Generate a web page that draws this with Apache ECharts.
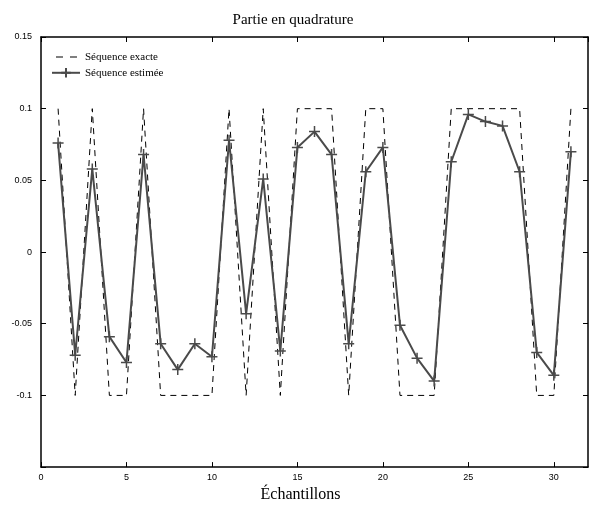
<!DOCTYPE html>
<html><head><meta charset="utf-8">
<script src="https://cdn.jsdelivr.net/npm/echarts@6/dist/echarts.min.js"></script>
<style>html,body{margin:0;padding:0;background:#fff}#c{width:590px;height:508px}</style>
</head><body><div id="c"></div>
<script>
const samples = [1,2,3,4,5,6,7,8,9,10,11,12,13,14,15,16,17,18,19,20,21,22,23,24,25,26,27,28,29,30,31];
const exact = [0.1,-0.1,0.1,-0.1,-0.1,0.1,-0.1,-0.1,-0.1,-0.1,0.1,-0.1,0.1,-0.1,0.1,0.1,0.1,-0.1,0.1,0.1,-0.1,-0.1,-0.1,0.1,0.1,0.1,0.1,0.1,-0.1,-0.1,0.1];
const estimated = [0.076,-0.072,0.058,-0.059,-0.077,0.068,-0.064,-0.082,-0.064,-0.073,0.078,-0.043,0.051,-0.069,0.073,0.084,0.068,-0.064,0.056,0.073,-0.051,-0.074,-0.090,0.063,0.096,0.091,0.088,0.056,-0.070,-0.086,0.070];
const yTickLabels = {'0.15':'0.15','0.1':'0.1','0.05':'0.05','0':'0','-0.05':'-0.05','-0.1':'-0.1'};

const chart = echarts.init(document.getElementById('c'));
const tickStyle = {show:true, inside:true, length:5, lineStyle:{color:'#000', width:1}};
const axisLine = {show:true, onZero:false, lineStyle:{color:'#000', width:1.5}};
const labelFont = {fontFamily:'Liberation Sans', fontSize:9, color:'#000'};
const plus = 'path://M0,5L10,5M5,0L5,10';
const dashIcon = 'path://M0,0L0.01,0M0,12L0.01,12M28,0L28.01,0M28,12L28.01,12M4,5.5L11,5.5L11,6.6L4,6.6ZM18,5.5L25,5.5L25,6.6L18,6.6Z';
chart.setOption({
  animation:false,
  title:{text:'Partie en quadrature', left:288, textAlign:'center', top:8,
    textStyle:{fontFamily:'Liberation Serif', fontWeight:'normal', fontSize:15, color:'#000'}},
  grid:{left:41, right:2, top:37, bottom:35, containLabel:false},
  legend:{left:46, top:46, orient:'vertical', itemGap:4, itemWidth:28, itemHeight:12,
    textStyle:{fontFamily:'Liberation Serif', fontSize:11, color:'#000'},
    data:[{name:'Séquence exacte', icon:dashIcon, itemStyle:{color:'#000', borderWidth:0}},
          'Séquence estimée']},
  xAxis:[{type:'value', min:0, max:32, interval:5, position:'bottom',
    name:'Échantillons', nameLocation:'middle', nameGap:17,
    nameTextStyle:{fontFamily:'Liberation Serif', fontSize:16, color:'#000', padding:[0,0,0,-28]},
    axisLine, axisTick:tickStyle, splitLine:{show:false},
    axisLabel:Object.assign({margin:6, showMaxLabel:false}, labelFont)},
   {type:'value', min:0, max:32, interval:5, position:'top',
    axisLine, axisTick:tickStyle, splitLine:{show:false}, axisLabel:{show:false}}],
  yAxis:[{type:'value', min:-0.15, max:0.15, interval:0.05, position:'left',
    axisLine, axisTick:tickStyle, splitLine:{show:false},
    axisLabel:Object.assign({margin:9, verticalAlign:'middle', padding:[0,0,4,0], formatter:v=>{const k=String(Math.round(v*100)/100);return yTickLabels[k]!==undefined?yTickLabels[k]:'';}}, labelFont)},
   {type:'value', min:-0.15, max:0.15, interval:0.05, position:'right',
    axisLine, axisTick:tickStyle, splitLine:{show:false}, axisLabel:{show:false}}],
  series:[
    {name:'Séquence exacte', type:'line', data:samples.map((x,i)=>[x,exact[i]]),
      symbol:'none', lineStyle:{color:'#000', width:1, type:[6,5]}, itemStyle:{color:'#000'}},
    {name:'Séquence estimée', type:'line', data:samples.map((x,i)=>[x,estimated[i]]),
      symbol:plus, symbolSize:11, showSymbol:true,
      lineStyle:{color:'#4a4a4a', width:2},
      itemStyle:{color:'#4a4a4a', borderColor:'#4a4a4a', borderWidth:1.5}}
  ]
});
</script></body></html>
